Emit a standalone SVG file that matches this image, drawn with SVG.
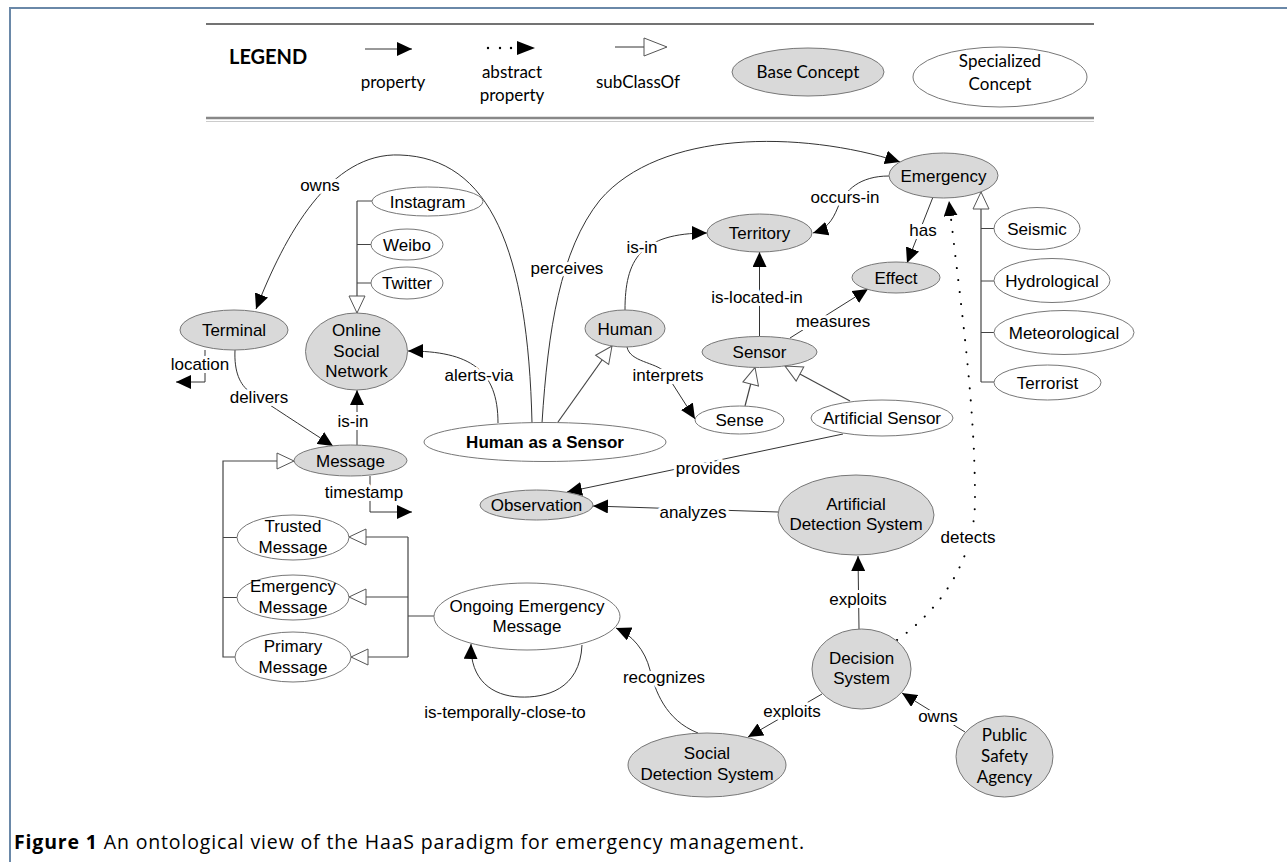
<svg xmlns="http://www.w3.org/2000/svg" width="1287" height="862" viewBox="0 0 1287 862">
<style>
.base{fill:#d9d9d9;stroke:#777;stroke-width:1}
.spec{fill:#fff;stroke:#777;stroke-width:1}
.t{font-family:"Liberation Sans",Arial,sans-serif;font-size:17px;fill:#000;text-anchor:middle}
.b{font-weight:bold}
.c{font-family:"Lato","Open Sans",sans-serif;font-size:17px;fill:#000;text-anchor:middle}
.e{fill:none;stroke:#333;stroke-width:1}
.s{fill:none;stroke:#444;stroke-width:1.2}
.lbl{font-family:"Liberation Sans",Arial,sans-serif;font-size:17px;fill:#000;text-anchor:middle;stroke:#fff;stroke-width:6;paint-order:stroke;stroke-linejoin:round}
</style>
<defs>
<marker id="arr" markerWidth="16" markerHeight="14" refX="15" refY="7" orient="auto" markerUnits="userSpaceOnUse"><path d="M0,0 L15,7 L0,14 z" fill="#000"/></marker>
<marker id="tri" markerWidth="20" markerHeight="18" refX="18" refY="9" orient="auto" markerUnits="userSpaceOnUse"><path d="M1,1 L18,9 L1,17 z" fill="#fff" stroke="#555" stroke-width="1"/></marker>
</defs>
<rect width="1287" height="862" fill="#fff"/>
<path d="M10 862 V8 H1287" fill="none" stroke="#6a88a8" stroke-width="2"/>

<g id="legend">
<path d="M206 24 H1094" stroke="#444" stroke-width="1.3"/>
<path d="M206 118 H1094" stroke="#888" stroke-width="2.5"/>
<path d="M206 121.5 H1094" stroke="#ccc" stroke-width="1"/>
<text x="229" y="64" font-family="Lato,'Open Sans',sans-serif" font-size="20" font-weight="bold">LEGEND</text>
<path d="M365 49 H412" class="e" marker-end="url(#arr)"/>
<text x="393" y="88" class="c">property</text>
<circle cx="488" cy="48" r="1.2" fill="#000"/><circle cx="500" cy="48" r="1.2" fill="#000"/><circle cx="511" cy="48" r="1.2" fill="#000"/>
<path d="M517 41 L535 48 L517 55 z" fill="#000"/>
<text x="512" y="78" class="c">abstract</text>
<text x="512" y="101" class="c">property</text>
<path d="M615 47 H644" class="e"/>
<path d="M644 38 L667 47 L644 56 z" fill="#fff" stroke="#555"/>
<text x="638" y="88" class="c">subClassOf</text>
<ellipse cx="808" cy="72" rx="76" ry="24" class="base"/>
<text x="808" y="78" class="c">Base Concept</text>
<ellipse cx="1000" cy="77" rx="87" ry="30" class="spec"/>
<text x="1000" y="67" class="c">Specialized</text>
<text x="1000" y="90" class="c">Concept</text>
</g>

<g id="connectors">
<path d="M357 201 V313" class="s" marker-end="url(#tri)"/>
<path d="M357 201 H372 M357 244.5 H371 M357 283 H371" class="s"/>
<path d="M981 382 V192" class="s" marker-end="url(#tri)"/>
<path d="M981 228.5 H994 M981 281 H994 M981 332.5 H994 M981 382 H994" class="s"/>
<path d="M235 657 H223 V461 H294" class="s" marker-end="url(#tri)"/>
<path d="M223 537.5 H237 M223 597.5 H237" class="s"/>
<path d="M434 616 H408 M408 537 V657" class="s"/>
<path d="M408 537 H349" class="s" marker-end="url(#tri)"/>
<path d="M408 597 H349" class="s" marker-end="url(#tri)"/>
<path d="M408 657 H351" class="s" marker-end="url(#tri)"/>
<path d="M558 422 L612 346" class="s" marker-end="url(#tri)"/>
<path d="M745 406 L755 367.5" class="s" marker-end="url(#tri)"/>
<path d="M850 401 L785 366" class="s" marker-end="url(#tri)"/>
<path d="M532 423 C528 250 490 158 400 155 C330 152 285 235 256 309" class="e" stroke="#555" marker-end="url(#arr)"/>
<path d="M542 423 C548 330 560 250 600 200 C660 130 800 130 900 162" class="e" marker-end="url(#arr)"/>
<path d="M498 423 C498 370 470 351 408 351" class="e" marker-end="url(#arr)"/>
<path d="M625 310 C625 260 640 233 707 233" class="e" marker-end="url(#arr)"/>
<path d="M889 176 C860 176 845 190 838 207 C832 222 826 229 813 233" class="e" marker-end="url(#arr)"/>
<path d="M933 197 L907 263" class="e" marker-end="url(#arr)"/>
<path d="M759.5 336.5 V252" class="e" marker-end="url(#arr)"/>
<path d="M790 338 L868 289" class="e" marker-end="url(#arr)"/>
<path d="M627 347 C630 362 655 362 665 372 L695 419" class="e" marker-end="url(#arr)"/>
<path d="M205 350 V382 H176" class="e" marker-end="url(#arr)"/>
<path d="M235 350 C234 372 240 385 250 392 C270 405 300 425 333 446" class="e" marker-end="url(#arr)"/>
<path d="M357 445 V390" class="e" marker-end="url(#arr)"/>
<path d="M370 476 V512 H412" class="e" marker-end="url(#arr)"/>
<path d="M582 645 C580 690 545 698 520 697 C492 696 470 680 471 644" class="e" marker-end="url(#arr)"/>
<path d="M843 434 L567 492" class="e" marker-end="url(#arr)"/>
<path d="M778 512 L593 506" class="e" marker-end="url(#arr)"/>
<path d="M859 629 L858 556" class="e" marker-end="url(#arr)"/>
<path d="M822 694 L748 737" class="e" marker-end="url(#arr)"/>
<path d="M965 732 L902 693" class="e" marker-end="url(#arr)"/>
<path d="M698 733 C665 720 655 690 650 670 C645 650 632 635 616 628" class="e" marker-end="url(#arr)"/>
<path d="M897 640 C940 610 975 560 975 500 C975 400 960 300 949 201" fill="none" stroke="#000" stroke-width="2" stroke-linecap="round" stroke-dasharray="0.1 12" marker-end="url(#arr)"/>
<text x="320" y="191" class="lbl">owns</text>
<text x="567" y="274" class="lbl">perceives</text>
<text x="479" y="381" class="lbl">alerts-via</text>
<text x="642" y="253" class="lbl">is-in</text>
<text x="845" y="203" class="lbl">occurs-in</text>
<text x="923" y="236" class="lbl">has</text>
<text x="757" y="303" class="lbl">is-located-in</text>
<text x="833" y="327" class="lbl">measures</text>
<text x="668" y="381" class="lbl">interprets</text>
<text x="200" y="370" class="lbl">location</text>
<text x="259" y="403" class="lbl">delivers</text>
<text x="353" y="427" class="lbl">is-in</text>
<text x="364" y="498" class="lbl">timestamp</text>
<text x="708" y="474" class="lbl">provides</text>
<text x="693" y="518" class="lbl">analyzes</text>
<text x="858" y="605" class="lbl">exploits</text>
<text x="968" y="543" class="lbl">detects</text>
<text x="664" y="683" class="lbl">recognizes</text>
<text x="505" y="718" class="lbl">is-temporally-close-to</text>
<text x="792" y="717" class="lbl">exploits</text>
<text x="938" y="722" class="lbl">owns</text>
</g>

<g id="instagram"><ellipse cx="427.5" cy="201.5" rx="55.5" ry="14.5" class="spec"/><text x="427.5" y="207.5" class="t">Instagram</text></g>
<g id="weibo"><ellipse cx="407" cy="244.5" rx="36" ry="15.5" class="spec"/><text x="407" y="250.5" class="t">Weibo</text></g>
<g id="twitter"><ellipse cx="407" cy="283" rx="36" ry="16" class="spec"/><text x="407" y="289" class="t">Twitter</text></g>
<g id="osn"><ellipse cx="356.5" cy="351.5" rx="51" ry="38.5" class="base"/><text x="356.5" y="336" class="t">Online</text><text x="356.5" y="357" class="t">Social</text><text x="356.5" y="377" class="t">Network</text></g>
<g id="terminal"><ellipse cx="234" cy="330" rx="54" ry="20" class="base"/><text x="234" y="336" class="t">Terminal</text></g>
<g id="human"><ellipse cx="625" cy="328.5" rx="40" ry="18.5" class="base"/><text x="625" y="334.5" class="t">Human</text></g>
<g id="haas"><ellipse cx="545" cy="442" rx="121" ry="19.5" class="spec"/><text x="545" y="448" class="t b">Human as a Sensor</text></g>
<g id="emergency"><ellipse cx="943.5" cy="175.5" rx="54.5" ry="22.5" class="base"/><text x="943.5" y="181.5" class="t">Emergency</text></g>
<g id="territory"><ellipse cx="759.5" cy="233" rx="52.5" ry="19" class="base"/><text x="759.5" y="239" class="t">Territory</text></g>
<g id="effect"><ellipse cx="896" cy="277.5" rx="44" ry="15.5" class="base"/><text x="896" y="283.5" class="t">Effect</text></g>
<g id="sensor"><ellipse cx="759.5" cy="352" rx="57.5" ry="15.5" class="base"/><text x="759.5" y="358" class="t">Sensor</text></g>
<g id="sense"><ellipse cx="739.5" cy="420" rx="44.5" ry="14" class="spec"/><text x="739.5" y="426" class="t">Sense</text></g>
<g id="artificial-sensor"><ellipse cx="882" cy="418" rx="71" ry="18" class="spec"/><text x="882" y="424" class="t">Artificial Sensor</text></g>
<g id="seismic"><ellipse cx="1037" cy="228.5" rx="43" ry="21" class="spec"/><text x="1037" y="234.5" class="t">Seismic</text></g>
<g id="hydrological"><ellipse cx="1052" cy="280.5" rx="58" ry="22" class="spec"/><text x="1052" y="286.5" class="t">Hydrological</text></g>
<g id="meteorological"><ellipse cx="1064" cy="332.5" rx="70" ry="22" class="spec"/><text x="1064" y="338.5" class="t">Meteorological</text></g>
<g id="terrorist"><ellipse cx="1047.5" cy="382.5" rx="53.5" ry="17.5" class="spec"/><text x="1047.5" y="388.5" class="t">Terrorist</text></g>
<g id="message"><ellipse cx="350.5" cy="460.5" rx="56.5" ry="15.5" class="base"/><text x="350.5" y="466.5" class="t">Message</text></g>
<g id="trusted-message"><ellipse cx="293" cy="537.5" rx="56" ry="22.5" class="spec"/><text x="293" y="532" class="t">Trusted</text><text x="293" y="553" class="t">Message</text></g>
<g id="emergency-message"><ellipse cx="293" cy="597.5" rx="56" ry="22.5" class="spec"/><text x="293" y="592" class="t">Emergency</text><text x="293" y="613" class="t">Message</text></g>
<g id="primary-message"><ellipse cx="293" cy="657" rx="58" ry="25" class="spec"/><text x="293" y="652" class="t">Primary</text><text x="293" y="673" class="t">Message</text></g>
<g id="ongoing-emergency-message"><ellipse cx="527" cy="616.5" rx="93" ry="33.5" class="spec"/><text x="527" y="612" class="t">Ongoing Emergency</text><text x="527" y="632" class="t">Message</text></g>
<g id="observation"><ellipse cx="536.5" cy="505" rx="56.5" ry="15" class="base"/><text x="536.5" y="511" class="t">Observation</text></g>
<g id="artificial-detection-system"><ellipse cx="856" cy="515" rx="78" ry="40" class="base"/><text x="856" y="510" class="t">Artificial</text><text x="856" y="530" class="t">Detection System</text></g>
<g id="decision-system"><ellipse cx="861.5" cy="669" rx="49.5" ry="40" class="base"/><text x="861.5" y="664" class="t">Decision</text><text x="861.5" y="684" class="t">System</text></g>
<g id="social-detection-system"><ellipse cx="707" cy="765" rx="79" ry="32" class="base"/><text x="707" y="759" class="t">Social</text><text x="707" y="780" class="t">Detection System</text></g>
<g id="public-safety-agency"><ellipse cx="1004.5" cy="756.5" rx="48.5" ry="40.5" class="base"/><text x="1004.5" y="741" class="c" font-size="16">Public</text><text x="1004.5" y="762" class="c" font-size="16">Safety</text><text x="1004.5" y="783" class="c" font-size="16">Agency</text></g>

<text x="14" y="849" font-family="'Open Sans',Lato,sans-serif" font-size="19.5" textLength="790" lengthAdjust="spacing"><tspan font-weight="bold">Figure 1</tspan> An ontological view of the HaaS paradigm for emergency management.</text>
</svg>
